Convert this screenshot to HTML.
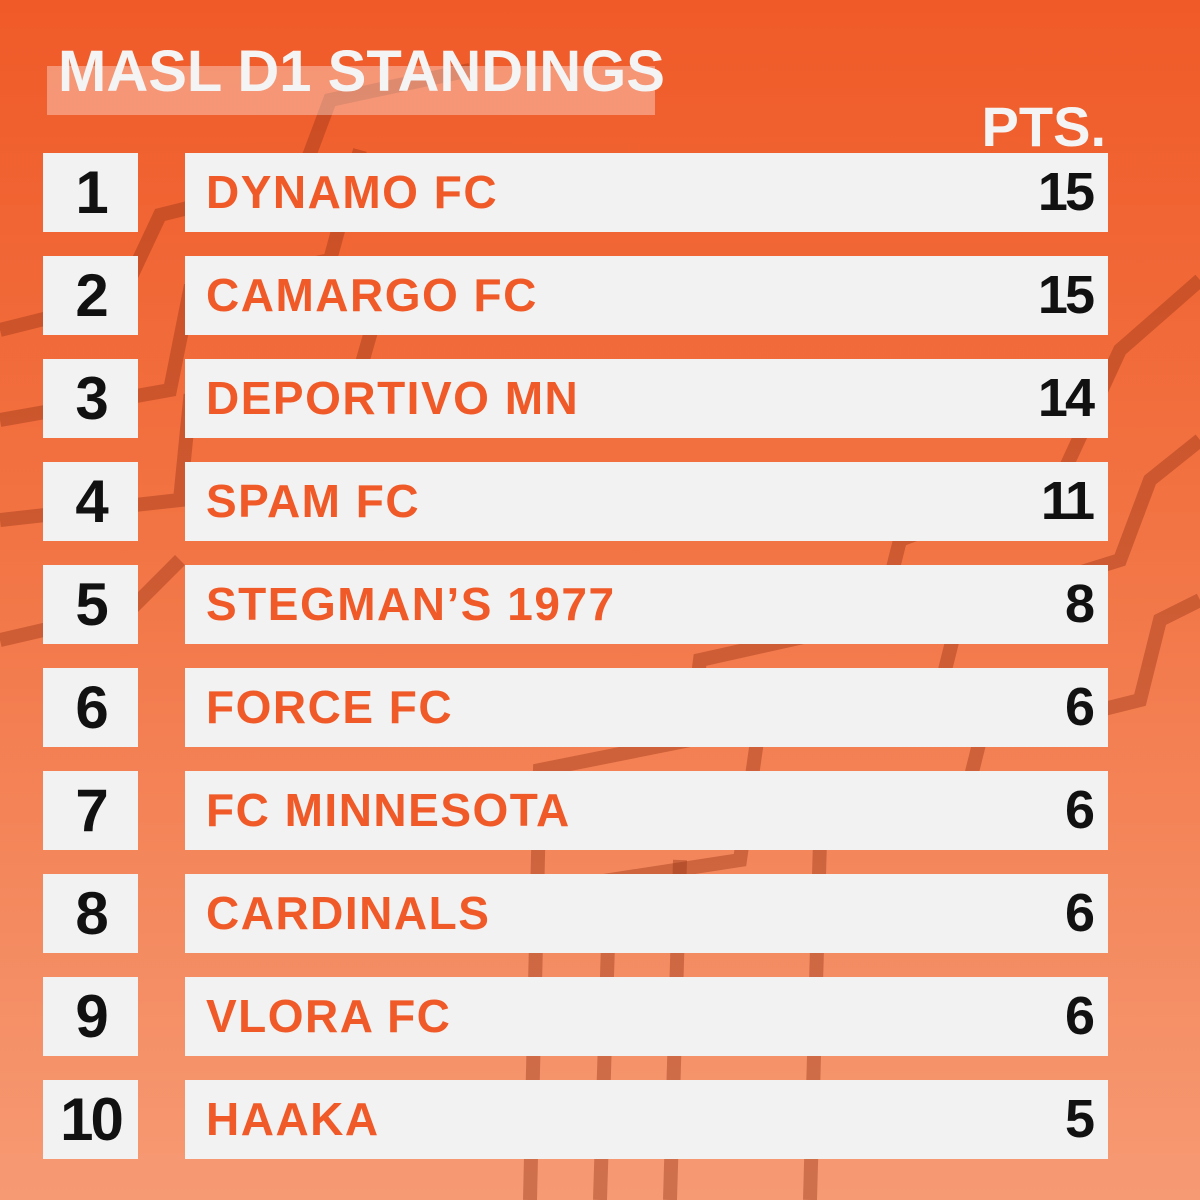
<!DOCTYPE html>
<html><head><meta charset="utf-8">
<style>
html,body{margin:0;padding:0;}
body{width:1200px;height:1200px;overflow:hidden;position:relative;
background:linear-gradient(180deg,#f05a28 0%,#f27444 45%,#f69a74 100%);
font-family:"Liberation Sans",sans-serif;}
#bg{position:absolute;left:0;top:0;}
.title-bar{position:absolute;left:47px;top:66px;width:608px;height:49px;background:rgba(255,255,255,0.35);}
.title{position:absolute;left:58px;top:38px;font-size:58px;font-weight:bold;color:#f4f4f4;letter-spacing:0px;white-space:nowrap;}
.pts-h{position:absolute;right:94px;top:94px;font-size:56px;font-weight:bold;color:#f4f4f4;}
.rank{position:absolute;left:43px;width:95px;height:79px;background:#f2f2f2;color:#111;font-weight:bold;font-size:60px;text-align:center;line-height:79px;letter-spacing:-3px;}
.bar{position:absolute;left:185px;width:923px;height:79px;background:#f2f2f2;}
.team{position:absolute;left:21px;top:0;line-height:79px;font-size:46px;font-weight:bold;color:#f05a28;letter-spacing:1.5px;white-space:nowrap;}
.pts{position:absolute;right:16px;top:0;line-height:79px;font-size:54px;font-weight:bold;color:#111;letter-spacing:-3px;}
</style></head>
<body>
<svg id="bg" width="1200" height="1200">
<g stroke="rgba(150,50,20,0.4)" stroke-width="14" fill="none">
<polyline points="0,330 120,300 160,215 300,180 330,100 470,70"/>
<polyline points="0,420 170,390 190,290 330,260 360,150"/>
<polyline points="0,520 180,500 190,400 360,370 380,300"/>
<polyline points="1200,280 1120,350 1060,480 900,540 880,620 700,660 690,740 540,770 530,1200"/>
<polyline points="1200,440 1150,480 1120,560 960,610 940,690 760,720 740,860 610,880 600,1200"/>
<polyline points="1200,600 1160,620 1140,700 980,740 960,820 820,840 810,1200"/>
<polyline points="680,860 670,1200"/>
<polyline points="0,640 130,610 180,560"/>
</g>
</svg>
<div class="title-bar"></div>
<div class="title">MASL D1 STANDINGS</div>
<div class="pts-h">PTS.</div>
<div id="rows"></div>
<script>
const ranks = [1,2,3,4,5,6,7,8,9,10];
const teams = ["DYNAMO FC","CAMARGO FC","DEPORTIVO MN","SPAM FC","STEGMAN’S 1977","FORCE FC","FC MINNESOTA","CARDINALS","VLORA FC","HAAKA"];
const points = [15,15,14,11,8,6,6,6,6,5];
const top0 = 153, step = 103;
const rows = document.getElementById('rows');
for (let i = 0; i < teams.length; i++) {
  const y = top0 + i * step;
  const r = document.createElement('div');
  r.className = 'rank';
  r.style.top = y + 'px';
  r.textContent = ranks[i];
  
  
  rows.appendChild(r);
  const b = document.createElement('div');
  b.className = 'bar';
  b.style.top = y + 'px';
  
  
  const t = document.createElement('div');
  t.className = 'team';
  t.textContent = teams[i];
  
  
  const p = document.createElement('div');
  p.className = 'pts';
  p.textContent = points[i];
  
  
  b.appendChild(t); b.appendChild(p);
  rows.appendChild(b);
}
</script>
</body></html>
